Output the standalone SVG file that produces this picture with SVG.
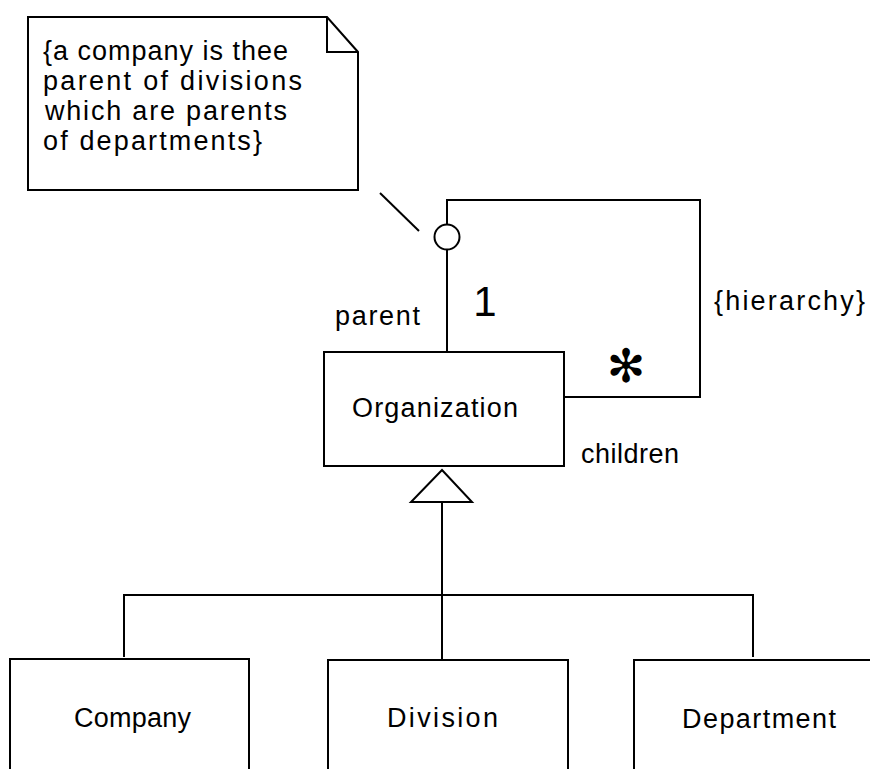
<svg xmlns="http://www.w3.org/2000/svg" width="870" height="769" viewBox="0 0 870 769">
  <style>
    .box { fill: #ffffff; stroke: #000000; stroke-width: 2; }
    .line { fill: none; stroke: #000000; stroke-width: 2; }
    .label { font-family: "Liberation Sans", Arial, sans-serif; font-size: 27px; fill: #000000; }
  </style>

  <!-- comment note -->
  <g id="note">
    <path class="box" d="M28,17 L327,17 L358,52 L358,190 L28,190 Z"/>
    <path class="line" d="M327,17 L327,52 L358,52"/>
    <text class="label" x="43" y="60" textLength="245" lengthAdjust="spacing">{a company is thee</text>
    <text class="label" x="43" y="90" textLength="259" lengthAdjust="spacing">parent of divisions</text>
    <text class="label" x="45" y="120" textLength="242" lengthAdjust="spacing">which are parents</text>
    <text class="label" x="43" y="150" textLength="219" lengthAdjust="spacing">of departments}</text>
  </g>

  <g id="connectors">
    <!-- note anchor -->
    <line class="line" x1="380" y1="193" x2="419" y2="231"/>
    <!-- hierarchy self-association -->
    <path class="line" d="M447,352 L447,200 L700,200 L700,397 L564,397"/>
    <circle class="box" cx="447" cy="237" r="12.5"/>
    <!-- generalization -->
    <path class="line" d="M442,502 L442,659"/>
    <path class="line" d="M124,657 L124,595 L753,595 L753,657"/>
    <polygon class="box" points="442,470 472,502 411,502"/>
  </g>

  <g id="association-labels">
    <text class="label" x="335" y="325" textLength="85" lengthAdjust="spacing">parent</text>
    <text x="485" y="316" font-family="Liberation Sans, Arial, sans-serif" font-size="42" text-anchor="middle">1</text>
    <text x="626" y="382" font-family="DejaVu Sans, sans-serif" font-size="46" text-anchor="middle">✻</text>
    <text class="label" x="714" y="310" textLength="151" lengthAdjust="spacing">{hierarchy}</text>
    <text class="label" x="581" y="463" textLength="98" lengthAdjust="spacing">children</text>
  </g>

  <g id="organization">
    <rect class="box" x="324" y="352" width="240" height="114"/>
    <text class="label" x="352" y="417" textLength="166" lengthAdjust="spacing">Organization</text>
  </g>

  <g id="company">
    <rect class="box" x="10" y="659" width="239" height="130"/>
    <text class="label" x="74" y="727" textLength="117" lengthAdjust="spacing">Company</text>
  </g>

  <g id="division">
    <rect class="box" x="328" y="660" width="240" height="130"/>
    <text class="label" x="387" y="727" textLength="111" lengthAdjust="spacing">Division</text>
  </g>

  <g id="department">
    <rect class="box" x="634" y="660" width="260" height="130"/>
    <text class="label" x="682" y="728" textLength="154" lengthAdjust="spacing">Department</text>
  </g>
</svg>
